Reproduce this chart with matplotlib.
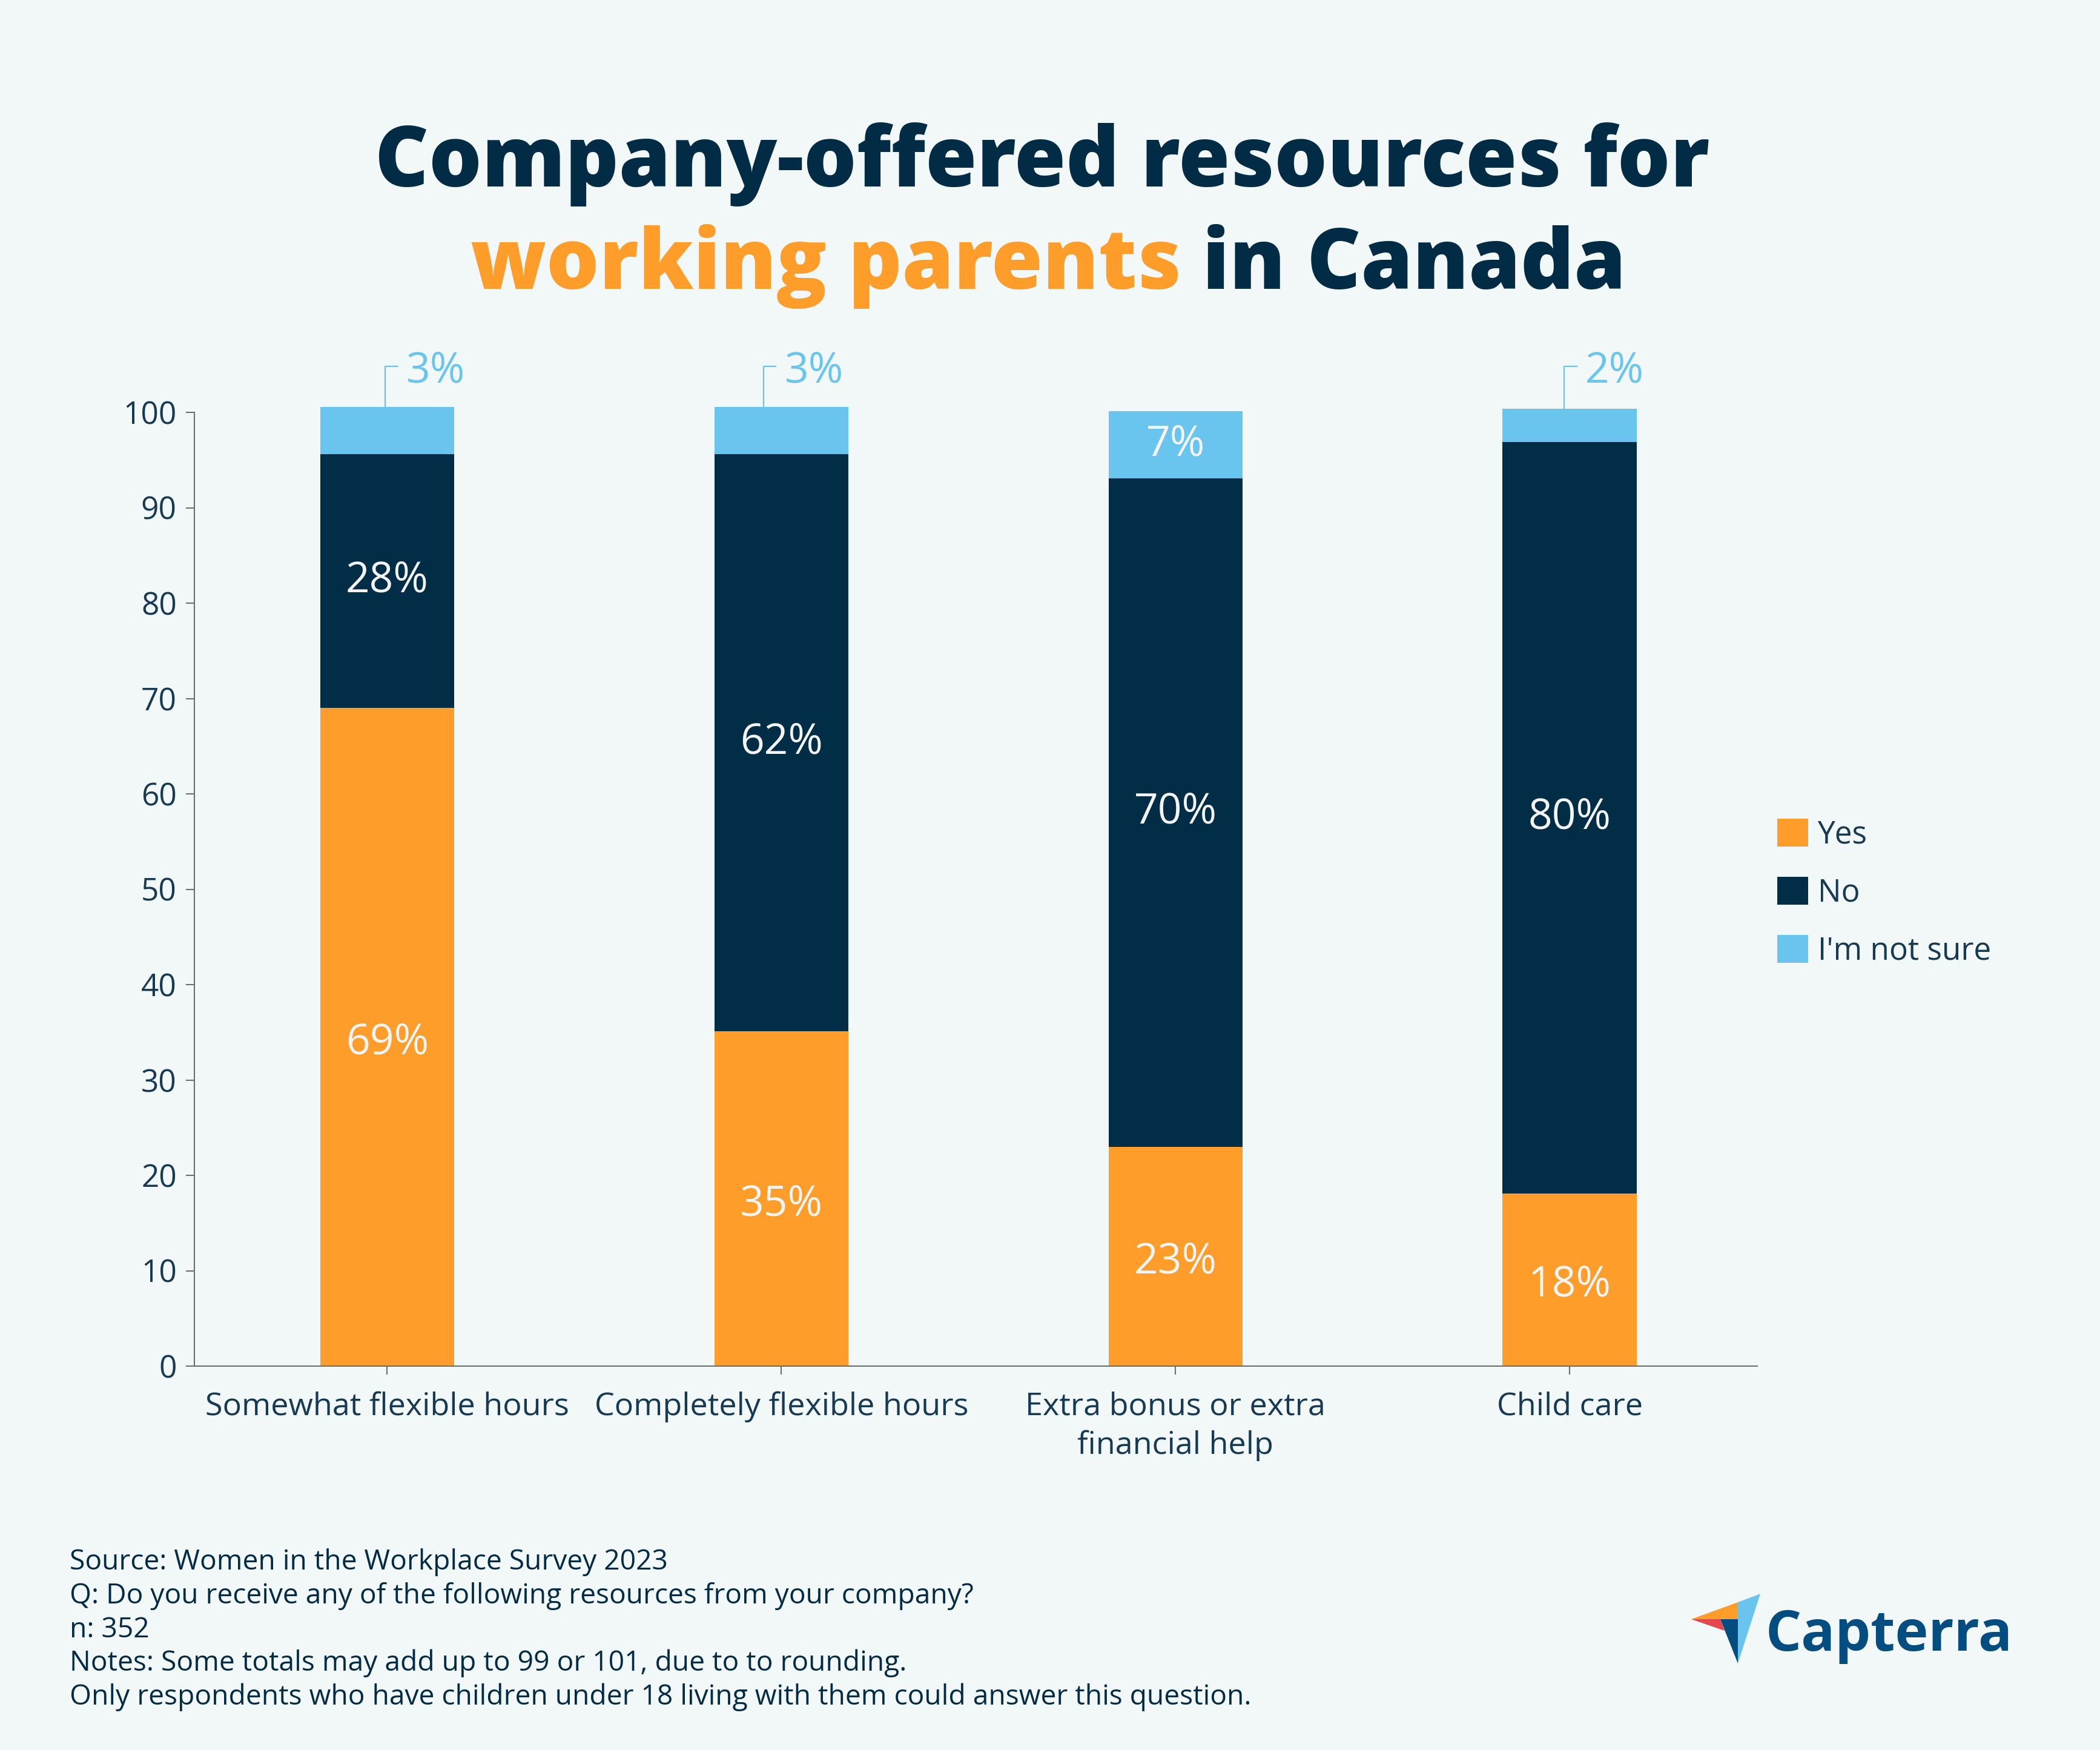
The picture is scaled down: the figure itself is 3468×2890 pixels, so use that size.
import matplotlib
matplotlib.use("Agg")
import matplotlib.pyplot as plt
from matplotlib.patches import Patch, Polygon
import numpy as np

# ---------------- data ----------------
categories = ["Somewhat flexible hours", "Completely flexible hours",
              "Extra bonus or extra\nfinancial help", "Child care"]
yes_vals = [69.0, 35.1, 23.0, 18.1]
no_vals = [26.6, 60.5, 70.1, 78.8]
unsure_vals = [5.0, 5.0, 7.0, 3.5]
yes_labels = ["69%", "35%", "23%", "18%"]
no_labels = ["28%", "62%", "70%", "80%"]
unsure_labels = ["3%", "3%", "7%", "2%"]
unsure_inside = [False, False, True, False]
series_names = ["Yes", "No", "I'm not sure"]
y_ticks = [0, 10, 20, 30, 40, 50, 60, 70, 80, 90, 100]

# ---------------- style ----------------
BG = "#F2F7F7"
ORANGE = "#FF9D2B"
NAVY = "#012D46"
LIGHT = "#6AC5EE"
TEXT = "#163A54"
TITLE = "#022C45"
AXIS = "#6E6E6E"
FONT = ["Open Sans", "DejaVu Sans"]

plt.rcParams["font.family"] = FONT

W, H = 3468, 2890
fig = plt.figure(figsize=(W / 100, H / 100), dpi=100, facecolor=BG)

ax = fig.add_axes([321 / W, 1 - 2256 / H, (2902 - 321) / W, (2256 - 681) / H])
ax.set_facecolor(BG)

x = np.arange(len(categories))
bw = 0.34
yes = np.array(yes_vals)
no = np.array(no_vals)
uns = np.array(unsure_vals)

b1 = ax.bar(x, yes, bw, color=ORANGE, label=series_names[0], zorder=2)
b2 = ax.bar(x, no, bw, bottom=yes, color=NAVY, label=series_names[1], zorder=2)
b3 = ax.bar(x, uns, bw, bottom=yes + no, color=LIGHT, label=series_names[2], zorder=2)
for cont in (b1, b2, b3):
    for r in cont:
        r.set_clip_on(False)

ax.set_xlim(-0.489, 3.476)
ax.set_ylim(0, 100)

# segment labels
lab_kw = dict(ha="center", va="center", color="#F4F4F4", fontsize=50, zorder=3)
for i in range(len(categories)):
    ax.text(x[i], yes[i] / 2 - 0.6, yes_labels[i], **lab_kw)
    ax.text(x[i], yes[i] + no[i] / 2, no_labels[i], **lab_kw)
    if unsure_inside[i]:
        ax.text(x[i], yes[i] + no[i] + uns[i] / 2, unsure_labels[i], **lab_kw)

# callouts for small segments
callout_dx = [-0.005, -0.045, 0.0, -0.014]
for i in range(len(categories)):
    if unsure_inside[i]:
        continue
    top = yes[i] + no[i] + uns[i]
    cx = x[i] + callout_dx[i]
    ax.plot([cx, cx, cx + 0.033], [top, 104.8, 104.8], color=LIGHT, lw=1.6,
            clip_on=False, zorder=3, solid_capstyle="butt")
    ax.text(cx + 0.053, 104.3, unsure_labels[i], ha="left", va="center",
            color=LIGHT, fontsize=50, clip_on=False)

# axes styling
for s in ["top", "right"]:
    ax.spines[s].set_visible(False)
for s in ["left", "bottom"]:
    ax.spines[s].set_color(AXIS)
    ax.spines[s].set_linewidth(1.5)
ax.set_yticks(y_ticks)
ax.set_xticks(x)
ax.set_xticklabels(categories, linespacing=1.33)
ax.tick_params(axis="y", length=10, width=1.5, color=AXIS, pad=11,
               labelsize=37, labelcolor=TEXT)
ax.tick_params(axis="x", length=10, width=1.5, color=AXIS, pad=20,
               labelsize=37.5, labelcolor=TEXT)

# legend
handles = [Patch(facecolor=c, edgecolor="none") for c in (ORANGE, NAVY, LIGHT)]
leg = fig.legend(handles, series_names, loc="upper left",
                 bbox_to_anchor=(2935 / W, 1 - 1352 / H),
                 frameon=False, fontsize=37, handlelength=1.0, handleheight=1.0,
                 handletextpad=0.3, labelspacing=0.84, borderpad=0, borderaxespad=0)
for t in leg.get_texts():
    t.set_color(TEXT)

# title
fig.text(1721 / W, 1 - 308 / H, "Company-offered resources for", ha="center",
         va="baseline", fontsize=99, fontweight="heavy", color=TITLE)
renderer = fig.canvas.get_renderer()
t_a = fig.text(0, 1 - 477 / H, "working parents", ha="left", va="baseline",
               fontsize=99, fontweight="heavy", color=ORANGE)
t_b = fig.text(0, 1 - 477 / H, " in Canada", ha="left", va="baseline",
               fontsize=99, fontweight="heavy", color=TITLE)
wa = t_a.get_window_extent(renderer).width / W
wb = t_b.get_window_extent(renderer).width / W
x0 = 1731 / W - (wa + wb) / 2
t_a.set_x(x0)
t_b.set_x(x0 + wa)

# footer
footer = ["Source: Women in the Workplace Survey 2023",
          "Q: Do you receive any of the following resources from your company?",
          "n: 352",
          "Notes: Some totals may add up to 99 or 101, due to to rounding.",
          "Only respondents who have children under 18 living with them could answer this question."]
for k, line in enumerate(footer):
    fig.text(115 / W, 1 - (2592 + 55.75 * k) / H, line, ha="left", va="baseline",
             fontsize=33.2, color=TITLE)

# logo
def P(pts, c):
    fig.add_artist(Polygon([(px / W, 1 - py / H) for px, py in pts], closed=True,
                           facecolor=c, edgecolor="none", transform=fig.transFigure))

P([(2793, 2674), (2870, 2646), (2870, 2674)], "#FF9D2B")
P([(2870, 2646), (2907, 2632), (2870, 2747)], "#6AC5EE")
P([(2793, 2674), (2841, 2674), (2848, 2693)], "#E5484A")
P([(2841, 2674), (2870, 2674), (2870, 2747)], "#044D80")
fig.text(2916 / W, 1 - 2726 / H, "Capterra", ha="left", va="baseline",
         fontsize=67, fontweight="bold", color="#044D80")

fig.savefig("out.png", dpi=100, facecolor=BG)
